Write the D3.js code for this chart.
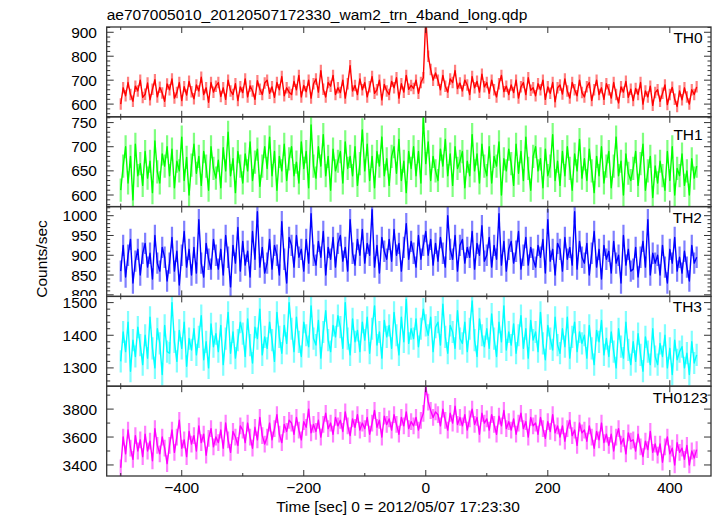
<!DOCTYPE html>
<html><head><meta charset="utf-8">
<script src="https://cdn.jsdelivr.net/npm/d3@7"></script>
<style>
body{margin:0;background:#fff}
svg{display:block}
text{font-family:"Liberation Sans",Arial,Helvetica,sans-serif;fill:#000}
</style>
</head><body>
<svg id="chart" width="717" height="516"></svg>
<script>
// ---------------- data ----------------
const titleText = "ae707005010_20120507172330_wam2_trn_4band_long.qdp";
const xLabel = "Time [sec] 0 = 2012/05/07 17:23:30";
const yLabel = "Counts/sec";
const times = d3.range(-500, 445, 4); // bin start times (s), 237 bins

const th0 = [
600,668,635,690,640,612,675,655,700,628,
641,688,618,662,702,630,670,646,612,684,
660,705,625,648,690,615,673,638,695,652,
622,680,655,712,640,668,608,690,650,675,
690,632,668,620,700,655,640,685,615,672,
648,705,630,676,655,620,698,662,640,688,
700,645,672,628,690,660,715,635,668,650,
640,695,660,720,630,678,652,700,625,685,
705,650,740,662,630,690,675,720,640,668,
648,700,625,685,760,655,678,640,705,660,
690,630,672,715,645,660,700,618,682,655,
640,695,668,710,625,685,650,720,662,678,
665,700,645,690,710,960,800,745,700,730,
700,660,720,675,650,705,690,740,665,688,
655,700,680,640,715,668,695,650,725,672,
690,645,700,660,630,685,720,652,675,640,
680,648,700,625,672,690,640,710,658,668,
635,685,660,700,620,672,645,690,610,668,
680,642,705,655,625,690,660,635,700,648,
630,672,690,615,660,700,640,668,620,685,
660,625,690,640,605,672,650,695,628,662,
615,665,640,690,600,655,630,675,595,648,
660,612,645,680,598,640,670,620,590,655,
618,668,630,600,660,640,672];

const th1 = [
610,660,700,625,680,590,705,640,665,620,
690,635,670,605,712,648,625,685,660,700,
640,695,615,670,650,720,630,678,600,662,
705,645,680,620,690,660,610,700,655,635,
672,615,698,650,730,640,675,605,690,660,
625,685,650,710,630,668,695,618,660,700,
655,720,640,690,610,680,650,705,630,675,
700,640,668,625,710,655,690,615,745,660,
635,700,660,725,640,680,610,695,650,670,
690,625,710,655,680,640,700,620,665,735,
650,705,630,680,615,690,660,720,640,675,
620,680,700,645,715,630,670,605,690,655,
700,640,690,625,760,665,710,630,680,650,
630,695,660,715,640,685,620,700,655,670,
690,615,670,640,725,650,685,625,705,660,
640,700,625,680,660,710,600,675,650,695,
665,620,705,645,690,630,720,655,610,680,
700,650,675,615,695,640,660,725,630,670,
620,690,640,700,655,610,685,650,715,635,
675,630,695,650,605,680,640,700,625,660,
690,615,660,720,640,670,600,685,645,630,
655,690,620,665,705,610,650,680,595,660,
625,670,640,610,690,630,700,600,655,640,
685,620,650,600,675,635,660];

const th2 = [
860,925,845,900,940,830,885,915,850,905,
930,870,905,840,950,880,860,920,895,835,
880,945,860,910,825,900,960,870,915,850,
920,855,990,880,845,930,890,865,940,900,
865,915,850,950,895,820,925,880,970,860,
935,875,910,845,960,890,1010,870,920,855,
880,940,865,925,900,850,985,890,830,945,
925,870,950,895,915,860,940,880,1005,900,
875,935,895,960,850,920,890,945,870,930,
950,885,920,860,990,905,875,940,900,965,
880,930,900,1015,870,925,855,945,910,890,
940,885,965,900,930,860,920,980,890,935,
905,870,950,890,925,960,900,940,875,930,
885,945,905,870,1000,915,890,950,860,925,
940,880,920,895,960,865,930,900,975,885,
900,945,870,925,890,1005,875,935,860,915,
935,880,910,960,865,900,945,875,920,890,
870,925,895,940,855,990,885,915,850,930,
915,860,945,890,920,875,1010,865,935,895,
880,930,850,905,960,870,915,840,925,890,
910,855,935,880,900,830,950,875,915,860,
865,920,845,895,935,870,990,850,905,880,
900,850,925,870,830,915,880,945,860,895,
855,910,870,835,925,880,895];

const th3 = [
1320,1410,1350,1440,1290,1385,1335,1425,1370,1310,
1400,1330,1455,1360,1300,1420,1375,1280,1430,1350,
1345,1500,1380,1320,1415,1360,1440,1305,1390,1355,
1420,1340,1395,1460,1325,1380,1300,1435,1365,1405,
1350,1430,1310,1390,1470,1345,1410,1330,1385,1440,
1405,1335,1450,1370,1315,1425,1390,1480,1340,1395,
1360,1440,1385,1320,1470,1395,1345,1430,1375,1500,
1420,1350,1455,1380,1335,1440,1400,1365,1490,1390,
1370,1445,1330,1410,1475,1385,1350,1430,1395,1460,
1425,1360,1500,1390,1340,1450,1380,1415,1350,1440,
1385,1455,1345,1420,1490,1370,1410,1330,1445,1395,
1430,1360,1470,1400,1340,1455,1380,1510,1375,1420,
1390,1450,1365,1420,1480,1430,1400,1455,1350,1425,
1440,1370,1495,1395,1345,1430,1410,1360,1475,1390,
1375,1440,1350,1420,1505,1385,1335,1450,1400,1365,
1420,1360,1465,1390,1335,1440,1380,1490,1355,1410,
1370,1435,1345,1400,1460,1360,1420,1330,1445,1385,
1410,1350,1470,1375,1325,1430,1390,1355,1455,1370,
1345,1420,1365,1455,1330,1395,1440,1350,1410,1375,
1400,1330,1430,1360,1310,1415,1380,1445,1340,1390,
1335,1410,1350,1300,1420,1365,1330,1440,1355,1310,
1380,1320,1405,1340,1290,1395,1350,1310,1420,1335,
1310,1375,1335,1400,1300,1360,1280,1385,1325,1350,
1365,1300,1345,1280,1380,1315,1340];

const th0123 = [
3380,3600,3480,3650,3520,3440,3610,3500,3580,3460,
3620,3500,3570,3430,3660,3540,3480,3600,3520,3410,
3540,3650,3490,3600,3720,3520,3580,3460,3640,3550,
3610,3500,3680,3560,3620,3470,3590,3660,3530,3600,
3560,3650,3520,3700,3580,3490,3640,3600,3540,3680,
3650,3560,3700,3600,3520,3670,3580,3740,3610,3550,
3600,3700,3580,3660,3760,3620,3560,3690,3640,3720,
3700,3620,3740,3650,3580,3710,3670,3800,3630,3690,
3640,3720,3600,3690,3770,3660,3700,3620,3740,3680,
3720,3640,3780,3680,3610,3730,3670,3760,3650,3700,
3660,3740,3620,3700,3790,3670,3720,3600,3750,3690,
3730,3650,3760,3690,3620,3740,3680,3780,3660,3710,
3680,3740,3650,3720,3770,3960,3850,3790,3740,3780,
3760,3680,3800,3720,3650,3770,3700,3820,3690,3740,
3680,3760,3650,3730,3800,3690,3740,3620,3770,3700,
3730,3650,3760,3690,3620,3750,3680,3790,3660,3710,
3650,3730,3620,3700,3770,3660,3710,3600,3740,3680,
3700,3620,3740,3660,3590,3710,3640,3760,3630,3680,
3600,3680,3570,3660,3720,3610,3650,3540,3700,3630,
3650,3570,3680,3600,3520,3640,3580,3700,3560,3620,
3540,3620,3500,3600,3660,3550,3590,3480,3630,3570,
3580,3500,3620,3530,3460,3570,3510,3640,3490,3550,
3470,3550,3420,3530,3600,3480,3520,3400,3560,3490,
3520,3440,3540,3400,3500,3450,3510];

const seriesNames = ["TH0", "TH1", "TH2", "TH3", "TH0123"];
const seriesValues = [th0, th1, th2, th3, th0123];
const seriesErrors = [24, 24, 27, 34, 60]; // typical 1-sigma half width
const yDomains = [[547, 922], [576, 762], [796, 1023], [1244, 1519], [3321, 3964]];
const yMajorTicks = [[600, 700, 800, 900], [600, 650, 700, 750], [800, 850, 900, 950, 1000], [1300, 1400, 1500], [3400, 3600, 3800]];
const yMinorSteps = [20, 10, 10, 20, 100];
const xDomain = [-523, 467.5];
const xMajorTicks = [-400, -200, 0, 200, 400];
const xMinorTicks = [-500, -300, -100, 100, 300];

// ---------------- style / layout ----------------
const colors = ["#ff0000", "#00ff00", "#0000ff", "#00ffff", "#ff00ff"];
const L = 106.7, R = 711, T = 27, B = 476;
const PH = (B - T) / 5;
const FS = "15.5px";
const frameColor = "#333";
const labelDy = [16, 23.5, 16, 16, 17];
const labelRight = [702.7, 702.7, 702, 702, 708];

const svg = d3.select("#chart");
const x = d3.scaleLinear().domain(xDomain).range([L, R]);

svg.append("text").attr("x", L).attr("y", 19.5).style("font-size", FS).text(titleText);

seriesValues.forEach((vals, i) => {
  const top = T + i * PH, bot = top + PH;
  const y = d3.scaleLinear().domain(yDomains[i]).range([bot, top]);
  const g = svg.append("g");
  const cid = "clip" + i;
  svg.append("clipPath").attr("id", cid).append("rect")
    .attr("x", L).attr("y", top).attr("width", R - L).attr("height", PH);
  const lcid = "lclip" + i;
  svg.append("clipPath").attr("id", lcid).append("rect")
    .attr("x", 0).attr("y", top + 0.5).attr("width", L).attr("height", PH - 1);

  const data = times.map((t, k) => ({ t: t, v: vals[k] }));
  const dg = g.append("g").attr("clip-path", `url(#${cid})`);
  // error bars
  dg.append("g").selectAll("line").data(data).join("line")
    .attr("x1", d => x(d.t)).attr("x2", d => x(d.t))
    .attr("y1", d => y(d.v - seriesErrors[i])).attr("y2", d => y(d.v + seriesErrors[i]))
    .attr("stroke", colors[i]).attr("stroke-opacity", 0.5).attr("stroke-width", 2.2);
  // line
  dg.append("path").datum(data)
    .attr("d", d3.line().x(d => x(d.t)).y(d => y(d.v)))
    .attr("fill", "none").attr("stroke", colors[i]).attr("stroke-width", 1.4)
    .attr("stroke-linejoin", "round");

  // y ticks
  const [d0, d1] = yDomains[i];
  const minors = d3.range(Math.ceil(d0 / yMinorSteps[i]) * yMinorSteps[i], d1, yMinorSteps[i])
    .filter(v => !yMajorTicks[i].includes(v));
  const tk = g.append("g").attr("stroke", frameColor).attr("stroke-width", 1);
  const yTick = (v, len) => {
    tk.append("line").attr("x1", L).attr("x2", L + len).attr("y1", y(v)).attr("y2", y(v));
    tk.append("line").attr("x1", R).attr("x2", R - len).attr("y1", y(v)).attr("y2", y(v));
  };
  yMajorTicks[i].forEach(v => yTick(v, 7));
  minors.forEach(v => yTick(v, 3.5));
  // x ticks top & bottom
  const xTick = (t, len) => {
    tk.append("line").attr("x1", x(t)).attr("x2", x(t)).attr("y1", top).attr("y2", top + len);
    tk.append("line").attr("x1", x(t)).attr("x2", x(t)).attr("y1", bot).attr("y2", bot - len);
  };
  xMajorTicks.forEach(t => xTick(t, 6));
  xMinorTicks.forEach(t => xTick(t, 3));

  // y tick labels
  g.append("g").attr("clip-path", `url(#${lcid})`).selectAll("text").data(yMajorTicks[i]).join("text")
    .attr("x", 97).attr("y", v => y(v)).attr("dy", "0.36em")
    .attr("text-anchor", "end").style("font-size", FS).text(v => v);

  // frame
  g.append("rect").attr("x", L).attr("y", top).attr("width", R - L).attr("height", PH)
    .attr("fill", "none").attr("stroke", frameColor).attr("stroke-width", 1.3);

  // series label
  g.append("text").attr("x", labelRight[i]).attr("y", top + labelDy[i])
    .attr("text-anchor", "end").style("font-size", FS).text(seriesNames[i]);
});

// x tick labels (bottom)
svg.append("g").selectAll("text").data(xMajorTicks).join("text")
  .attr("x", d => x(d)).attr("y", 493).attr("text-anchor", "middle")
  .style("font-size", FS).text(d => d < 0 ? "\u2212" + Math.abs(d) : d);

svg.append("text").attr("x", 398).attr("y", 511.5).attr("text-anchor", "middle")
  .style("font-size", FS).text(xLabel);
svg.append("text").attr("transform", "translate(46.5,259) rotate(-90)")
  .attr("text-anchor", "middle").style("font-size", FS).text(yLabel);
</script>
</body></html>
